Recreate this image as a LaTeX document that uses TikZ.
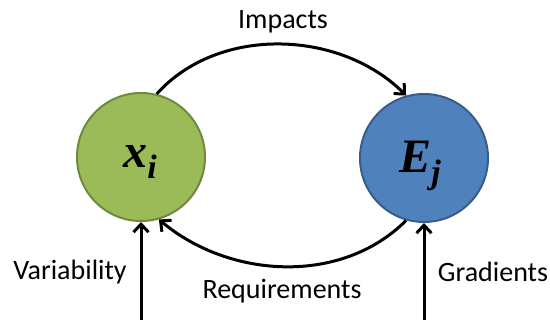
\documentclass[tikz,border=0pt]{standalone}
\usepackage{fontspec}
\setmainfont{Carlito}
\newfontfamily\tnrfont{Liberation Serif}
\usetikzlibrary{arrows.meta}
\definecolor{gfill}{HTML}{9BBB59}
\definecolor{gline}{HTML}{71893F}
\definecolor{bfill}{HTML}{4F81BD}
\definecolor{bline}{HTML}{385D8A}
\tikzset{
  var/.style={circle, minimum size=128pt, inner sep=0pt, line width=2pt},
  conn/.style={line width=3pt, -{Straight Barb[length=8pt,width=15pt,line width=3pt]}},
  lab/.style={font=\fontsize{28}{32}\selectfont, inner sep=0pt},
  sym/.style={font=\tnrfont\fontsize{48}{52}\selectfont\bfseries\itshape, inner sep=0pt}
}
\begin{document}
\begin{tikzpicture}[x=1pt,y=-1pt]
\useasboundingbox (0,0) rectangle (550,320);
\node[var, fill=gfill, draw=gline] (g) at (141,157) {};
\node[var, fill=bfill, draw=bline] (b) at (424,158) {};
\node[sym] (gx) at (140,162) {x\raisebox{-0.22em}{\fontsize{34}{36}\selectfont i}};
\node[sym] (bx) at (420,166) {E\raisebox{-0.22em}{\fontsize{34}{36}\selectfont j}};
\coordinate (gin) at (141,322);
\coordinate (bin) at (424,322);
\draw[conn] (g.76) to[out=48,in=135,looseness=0.95] (b.106);
\draw[conn] (b.-106) to[out=225,in=-40,looseness=0.95] (g.-74);
\draw[conn] (gin) -- (g);
\draw[conn] (bin) -- (b);
\node[lab] (imp) at (283,22) {Impacts};
\node[lab] (req) at (282,291) {Requirements};
\node[lab] (var) at (70,272) {Variability};
\node[lab] (grad) at (493,272) {Gradients};
\end{tikzpicture}
\end{document}
